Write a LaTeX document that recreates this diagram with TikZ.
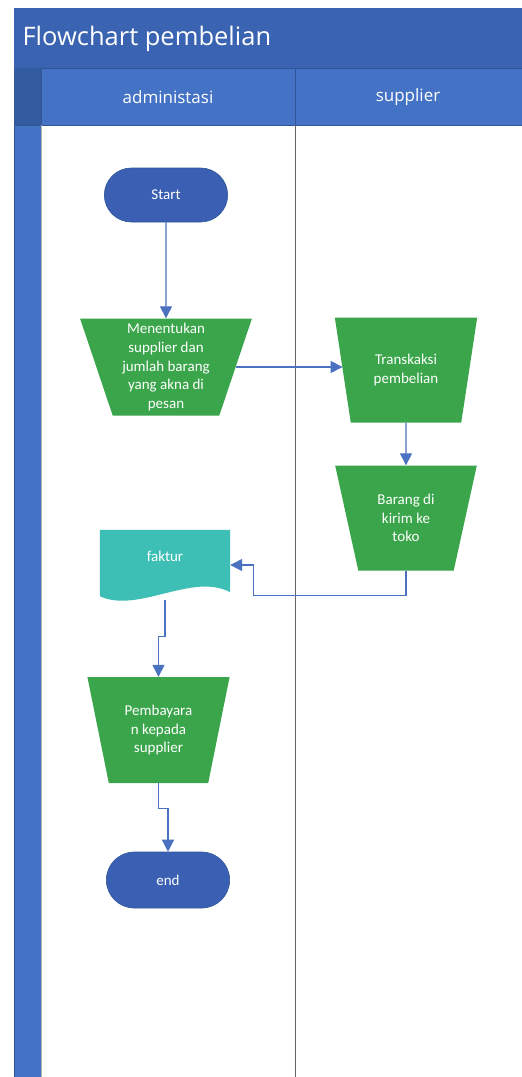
\documentclass[tikz,border=0pt]{standalone}
\usepackage{fontspec}
\setmainfont{Carlito}
\newfontfamily\headfont{Open Sans}
\usetikzlibrary{shapes.geometric,shapes.misc,arrows.meta}

\definecolor{titleblue}{HTML}{3A63B2}
\definecolor{laneblue}{HTML}{4472C4}
\definecolor{lanedark}{HTML}{2F5597}
\definecolor{pillblue}{HTML}{3A5FB3}
\definecolor{procgreen}{HTML}{3AA54A}
\definecolor{docteal}{HTML}{3DBFB5}
\definecolor{conncol}{HTML}{4A72C0}

\tikzset{
  pill/.style={rounded rectangle, fill=pillblue, draw=lanedark, line width=.6pt,
    minimum width=130pt, minimum height=54pt, text=white, font=\fontsize{15}{18.7}\selectfont},
  proc/.style={trapezium, shape border rotate=180, trapezium stretches=true,
    fill=procgreen, text=white, inner sep=1pt, align=center,
    font=\fontsize{15}{18.7}\selectfont},
  doc/.style={rectangle, minimum width=130pt, minimum height=70pt, text=white,
    font=\fontsize{15}{18.7}\selectfont},
  conn/.style={draw=conncol, line width=1.4pt, -{Triangle[length=12pt,width=12pt]}},
  lanehead/.style={text=white, font=\headfont\fontsize{17}{20}\selectfont}
}

\begin{document}
\begin{tikzpicture}[x=1pt,y=-1pt]
\fill[white] (0,0) rectangle (522,1077);
\useasboundingbox (0,0) rectangle (522,1077);

\fill[titleblue] (14,8) rectangle (522,68);
\fill[lanedark!80!laneblue] (14,68) rectangle (41,125);
\fill[laneblue, draw=lanedark, line width=.6pt] (41,68) rectangle (295,125);
\fill[laneblue, draw=lanedark, line width=.6pt] (295,68) rectangle (522,125);
\fill[laneblue, draw=lanedark, line width=.8pt] (14,125) rectangle (41,1077);
\draw[gray!80!black, line width=.8pt] (295,125) -- (295,1077);
\draw[gray!60, line width=.5pt] (41,125) -- (41,1077);

\node[anchor=west, text=white, font=\headfont\fontsize{25.5}{30}\selectfont] (title) at (19,39) {Flowchart pembelian};
\node[lanehead] (admin) at (168,97) {administasi};
\node[lanehead] (supp) at (408,97) {supplier};

\node[pill] (start) at (166,195) {Start};
\node[proc, trapezium left angle=73, trapezium right angle=73,
  minimum width=172pt, minimum height=97pt] (ment) at (166,367)
  {Menentukan\\supplier dan\\jumlah barang\\yang akna di\\pesan};
\node[proc, trapezium left angle=74, trapezium right angle=74,
  minimum width=143pt, minimum height=105pt] (trans) at (406,370)
  {Transkaksi\\pembelian};
\node[proc, trapezium left angle=74, trapezium right angle=74,
  minimum width=143pt, minimum height=105pt] (barang) at (406,518)
  {Barang di\\kirim ke\\toko};
\node[doc] (faktur) at (165,565) {\raisebox{17pt}{faktur}};
\fill[docteal] (faktur.north west) -- (faktur.north east) -- ([yshift=8pt]faktur.south east)
  .. controls (192,572) and (138,614) .. ([yshift=4pt]faktur.south west) -- cycle;
\node[doc] at (faktur) {\raisebox{17pt}{faktur}};
\node[proc, trapezium left angle=74, trapezium right angle=74,
  minimum width=143pt, minimum height=106pt] (pemb) at (158.5,730)
  {Pembayara\\n kepada\\supplier};
\node[pill, minimum height=56pt] (finish) at (168,880) {end};

\draw[conn] (start) -- (ment);
\draw[conn] (ment.east) -- (ment.east -| trans.west);
\draw[conn] (trans) -- (barang);
\draw[conn] (barang.south) -- ++(0,25) -| ([xshift=23pt]faktur.east) -- (faktur.east);
\draw[conn] (faktur.south) -- ++(0,36) -| (pemb.north);
\draw[conn] (pemb.south) -- ++(0,25) -| (finish.north);
\end{tikzpicture}
\end{document}
